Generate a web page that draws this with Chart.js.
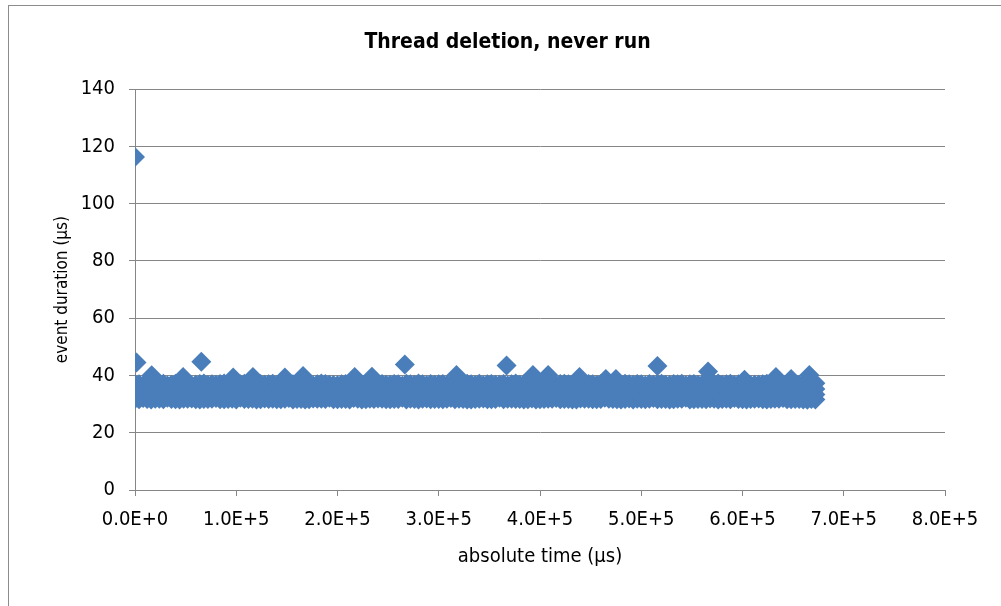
<!DOCTYPE html>
<html>
<head>
<meta charset="utf-8">
<script src="https://cdn.jsdelivr.net/npm/chart.js@4"></script>
<style>
  html, body { margin: 0; padding: 0; background: #fff; overflow: hidden; }
  #frame {
    position: absolute; left: 8px; top: 5px; width: 1100px; height: 700px;
    border: 1px solid #8c8c8c; box-sizing: border-box;
  }
  #chart { position: absolute; left: 0; top: 0; }
</style>
</head>
<body>
<div id="frame"></div>
<canvas id="chart" width="1001" height="606"></canvas>
<script>
// band of events (µs since start) with their durations at a few levels
const bandTimes = [
  0, 8000, 16000, 24000, 32000, 40000, 48000, 56000, 64000, 72000,
  80000, 88000, 96000, 104000, 112000, 120000, 128000, 136000, 144000, 152000,
  160000, 168000, 176000, 184000, 192000, 200000, 208000, 216000, 224000, 232000,
  240000, 248000, 256000, 264000, 272000, 280000, 288000, 296000, 304000, 312000,
  320000, 328000, 336000, 344000, 352000, 360000, 368000, 376000, 384000, 392000,
  400000, 408000, 416000, 424000, 432000, 440000, 448000, 456000, 464000, 472000,
  480000, 488000, 496000, 504000, 512000, 520000, 528000, 536000, 544000, 552000,
  560000, 568000, 576000, 584000, 592000, 600000, 608000, 616000, 624000, 632000,
  640000, 648000, 656000, 664000, 672000,
];
const bandTop = [
  37.0, 36.6, 37.2, 36.8, 36.5, 37.1, 36.9, 36.4, 37.0, 36.7,
  36.8, 37.2, 36.5, 36.9, 37.0, 36.6, 36.8, 37.1, 36.4, 36.9,
  37.0, 36.7, 36.5, 37.2, 36.8, 36.6, 37.0, 36.9, 36.5, 37.1,
  36.7, 36.8, 37.0, 36.4, 36.9, 37.2, 36.6, 36.8, 37.0, 36.5,
  36.9, 37.1, 36.7, 36.6, 37.0, 36.8, 36.5, 37.2, 36.9, 36.7,
  37.0, 36.6, 36.8, 37.1, 36.5, 36.9, 37.0, 36.7, 36.8, 37.2,
  36.6, 36.9, 37.0, 36.5, 36.8, 37.1, 36.7, 36.9, 36.6, 37.0,
  36.8, 36.5, 37.2, 36.9, 36.7, 37.0, 36.6, 36.8, 37.1, 36.9,
  36.5, 37.0, 36.8, 36.7, 37.3,
];
const bandUpper = [
  35.2, 35.3, 35.1, 35.2, 35.3, 35.2, 35.1, 35.2, 35.3, 35.2,
  35.1, 35.2, 35.3, 35.2, 35.1, 35.2, 35.3, 35.2, 35.1, 35.2,
  35.3, 35.2, 35.1, 35.2, 35.3, 35.2, 35.1, 35.2, 35.3, 35.2,
  35.1, 35.2, 35.3, 35.2, 35.1, 35.2, 35.3, 35.2, 35.1, 35.2,
  35.3, 35.2, 35.1, 35.2, 35.3, 35.2, 35.1, 35.2, 35.3, 35.2,
  35.1, 35.2, 35.3, 35.2, 35.1, 35.2, 35.3, 35.2, 35.1, 35.2,
  35.3, 35.2, 35.1, 35.2, 35.3, 35.2, 35.1, 35.2, 35.3, 35.2,
  35.1, 35.2, 35.3, 35.2, 35.1, 35.2, 35.3, 35.2, 35.1, 35.2,
  35.3, 35.2, 35.1, 35.2, 35.3,
];
const bandLower = [
  33.5, 33.4, 33.6, 33.5, 33.4, 33.5, 33.6, 33.5, 33.4, 33.5,
  33.6, 33.5, 33.4, 33.5, 33.6, 33.5, 33.4, 33.5, 33.6, 33.5,
  33.4, 33.5, 33.6, 33.5, 33.4, 33.5, 33.6, 33.5, 33.4, 33.5,
  33.6, 33.5, 33.4, 33.5, 33.6, 33.5, 33.4, 33.5, 33.6, 33.5,
  33.4, 33.5, 33.6, 33.5, 33.4, 33.5, 33.6, 33.5, 33.4, 33.5,
  33.6, 33.5, 33.4, 33.5, 33.6, 33.5, 33.4, 33.5, 33.6, 33.5,
  33.4, 33.5, 33.6, 33.5, 33.4, 33.5, 33.6, 33.5, 33.4, 33.5,
  33.6, 33.5, 33.4, 33.5, 33.6, 33.5, 33.4, 33.5, 33.6, 33.5,
  33.4, 33.5, 33.6, 33.5, 33.4,
];
const bandBottom = [
  31.8, 32.1, 31.6, 31.9, 32.2, 31.7, 31.9, 32.0, 31.6, 31.8,
  32.1, 31.7, 31.9, 32.2, 31.8, 31.6, 32.0, 31.9, 31.7, 32.1,
  31.8, 31.6, 32.0, 31.9, 32.2, 31.7, 31.8, 32.1, 31.6, 31.9,
  32.0, 31.7, 31.8, 32.2, 31.9, 31.6, 32.0, 31.8, 31.7, 32.1,
  31.9, 31.6, 31.8, 32.0, 31.7, 32.2, 31.9, 31.8, 31.6, 32.0,
  31.7, 31.9, 32.1, 31.8, 31.6, 32.0, 31.9, 31.7, 32.2, 31.8,
  31.6, 32.0, 31.9, 31.7, 32.1, 31.8, 31.6, 31.9, 32.2, 31.7,
  31.8, 32.0, 31.6, 31.9, 32.1, 31.7, 31.8, 32.0, 31.6, 31.9,
  32.1, 31.7, 31.8, 31.5, 31.6,
];

// events falling between the ones above, on the band's upper and lower edges
const edgeTimes = [
  4000, 12000, 20000, 28000, 36000, 44000, 52000, 60000, 68000, 76000,
  84000, 92000, 100000, 108000, 116000, 124000, 132000, 140000, 148000, 156000,
  164000, 172000, 180000, 188000, 196000, 204000, 212000, 220000, 228000, 236000,
  244000, 252000, 260000, 268000, 276000, 284000, 292000, 300000, 308000, 316000,
  324000, 332000, 340000, 348000, 356000, 364000, 372000, 380000, 388000, 396000,
  404000, 412000, 420000, 428000, 436000, 444000, 452000, 460000, 468000, 476000,
  484000, 492000, 500000, 508000, 516000, 524000, 532000, 540000, 548000, 556000,
  564000, 572000, 580000, 588000, 596000, 604000, 612000, 620000, 628000, 636000,
  644000, 652000, 660000, 668000,
];
const edgeTop = [
  36.9, 37.0, 36.7, 37.1, 36.8, 36.9, 37.0, 36.8, 37.2, 36.9,
  37.0, 36.8, 36.9, 37.1, 36.8, 37.0, 36.9, 36.7, 37.0, 36.9,
  36.8, 37.1, 36.9, 37.0, 36.7, 36.9, 37.1, 36.8, 37.0, 36.9,
  37.0, 36.8, 36.9, 37.1, 36.8, 36.9, 37.0, 36.9, 36.7, 37.0,
  36.8, 36.9, 37.1, 36.9, 36.8, 37.0, 36.9, 36.8, 37.0, 37.1,
  36.9, 36.8, 37.0, 36.9, 37.1, 36.8, 36.9, 37.0, 36.8, 36.9,
  37.1, 36.8, 36.9, 37.0, 36.9, 36.8, 37.0, 37.1, 36.9, 36.8,
  37.0, 36.9, 36.8, 37.1, 36.9, 37.0, 36.8, 36.9, 37.0, 36.8,
  37.1, 36.9, 37.0, 36.9,
];
const edgeBottom = [
  31.7, 31.8, 31.9, 31.7, 31.8, 31.6, 31.9, 31.7, 31.8, 31.9,
  31.7, 31.8, 31.6, 31.8, 31.9, 31.7, 31.8, 31.7, 31.9, 31.6,
  31.8, 31.7, 31.9, 31.8, 31.7, 31.8, 31.6, 31.9, 31.7, 31.8,
  31.9, 31.7, 31.8, 31.6, 31.8, 31.9, 31.7, 31.8, 31.9, 31.7,
  31.8, 31.6, 31.9, 31.7, 31.8, 31.7, 31.9, 31.8, 31.7, 31.6,
  31.8, 31.9, 31.7, 31.8, 31.6, 31.9, 31.7, 31.8, 31.9, 31.7,
  31.8, 31.6, 31.8, 31.9, 31.7, 31.8, 31.7, 31.9, 31.6, 31.8,
  31.7, 31.9, 31.8, 31.7, 31.8, 31.6, 31.9, 31.7, 31.8, 31.9,
  31.7, 31.8, 31.6, 31.8,
];

// isolated longer events sticking out above the band
const peakTimes = [
  0, 1500, 16500, 47500, 65500, 97000, 116500, 148000, 166000, 217000,
  234000, 266500, 317500, 367000, 393000, 408000, 439000, 465000, 475000, 516000,
  566000, 602000, 633000, 648000, 666000,
];
const peakValues = [
  116.3, 44.5, 40.1, 39.5, 44.8, 39.3, 39.5, 39.3, 39.8, 39.5,
  39.6, 43.8, 40.2, 43.5, 40.2, 40.2, 39.5, 38.8, 38.8, 43.3,
  41.4, 38.5, 39.5, 38.8, 40.2,
];

const xTicks = [0, 100000, 200000, 300000, 400000, 500000, 600000, 700000, 800000];

const points = [];
[bandBottom, bandLower, bandUpper, bandTop].forEach((level) => {
  bandTimes.forEach((t, i) => points.push({ x: t, y: level[i] }));
});
[edgeBottom, edgeTop].forEach((level) => {
  edgeTimes.forEach((t, i) => points.push({ x: t, y: level[i] }));
});
peakTimes.forEach((t, i) => points.push({ x: t, y: peakValues[i] }));

const fontFamily = '"DejaVu Sans Condensed", "DejaVu Sans", sans-serif';
const gridColor = "#868686";

new Chart(document.getElementById("chart").getContext("2d"), {
  type: "scatter",
  data: {
    datasets: [
      {
        label: "events",
        data: points,
        pointStyle: "rectRot",
        pointRadius: 10,
        pointBorderWidth: 0,
        backgroundColor: "#4A7EBB",
        borderColor: "#4A7EBB",
      },
    ],
  },
  options: {
    responsive: false,
    animation: false,
    events: [],
    // left padding is wide so the title centres on the frame, not the plot
    layout: { padding: { left: 70, right: 56, top: 0, bottom: 33 } },
    scales: {
      x: {
        type: "linear",
        min: 0,
        max: 800000,
        afterBuildTicks: (scale) => {
          scale.ticks = xTicks.map((v) => ({ value: v }));
        },
        afterFit: (scale) => {
          scale.height = 83;
        },
        ticks: {
          color: "#000",
          padding: 12,
          maxRotation: 0,
          autoSkip: false,
          font: { family: fontFamily, size: 20 },
          callback: (v) => Number(v).toExponential(1).toUpperCase(),
        },
        grid: {
          drawOnChartArea: false,
          drawTicks: true,
          tickLength: 6,
          color: gridColor,
        },
        border: { color: gridColor, width: 1 },
        title: {
          display: true,
          text: "absolute time (µs)",
          color: "#000",
          padding: { top: 4, bottom: 4 },
          font: { family: fontFamily, size: 20 },
        },
      },
      y: {
        min: 0,
        max: 140,
        afterFit: (scale) => {
          scale.width = 65;
        },
        ticks: {
          stepSize: 20,
          color: "#000",
          padding: 14,
          font: { family: fontFamily, size: 20 },
        },
        grid: {
          drawTicks: true,
          tickLength: 6,
          color: gridColor,
        },
        border: { color: gridColor, width: 1 },
        title: {
          display: true,
          text: "event duration (µs)",
          color: "#000",
          padding: { top: -18, bottom: 4 },
          font: { family: fontFamily, size: 17 },
        },
      },
    },
    plugins: {
      legend: { display: false },
      tooltip: { enabled: false },
      title: {
        display: true,
        text: "Thread deletion, never run",
        color: "#000",
        padding: { top: 30, bottom: 34 },
        font: { family: fontFamily, size: 21, weight: "bold" },
      },
    },
  },
});
</script>
</body>
</html>
